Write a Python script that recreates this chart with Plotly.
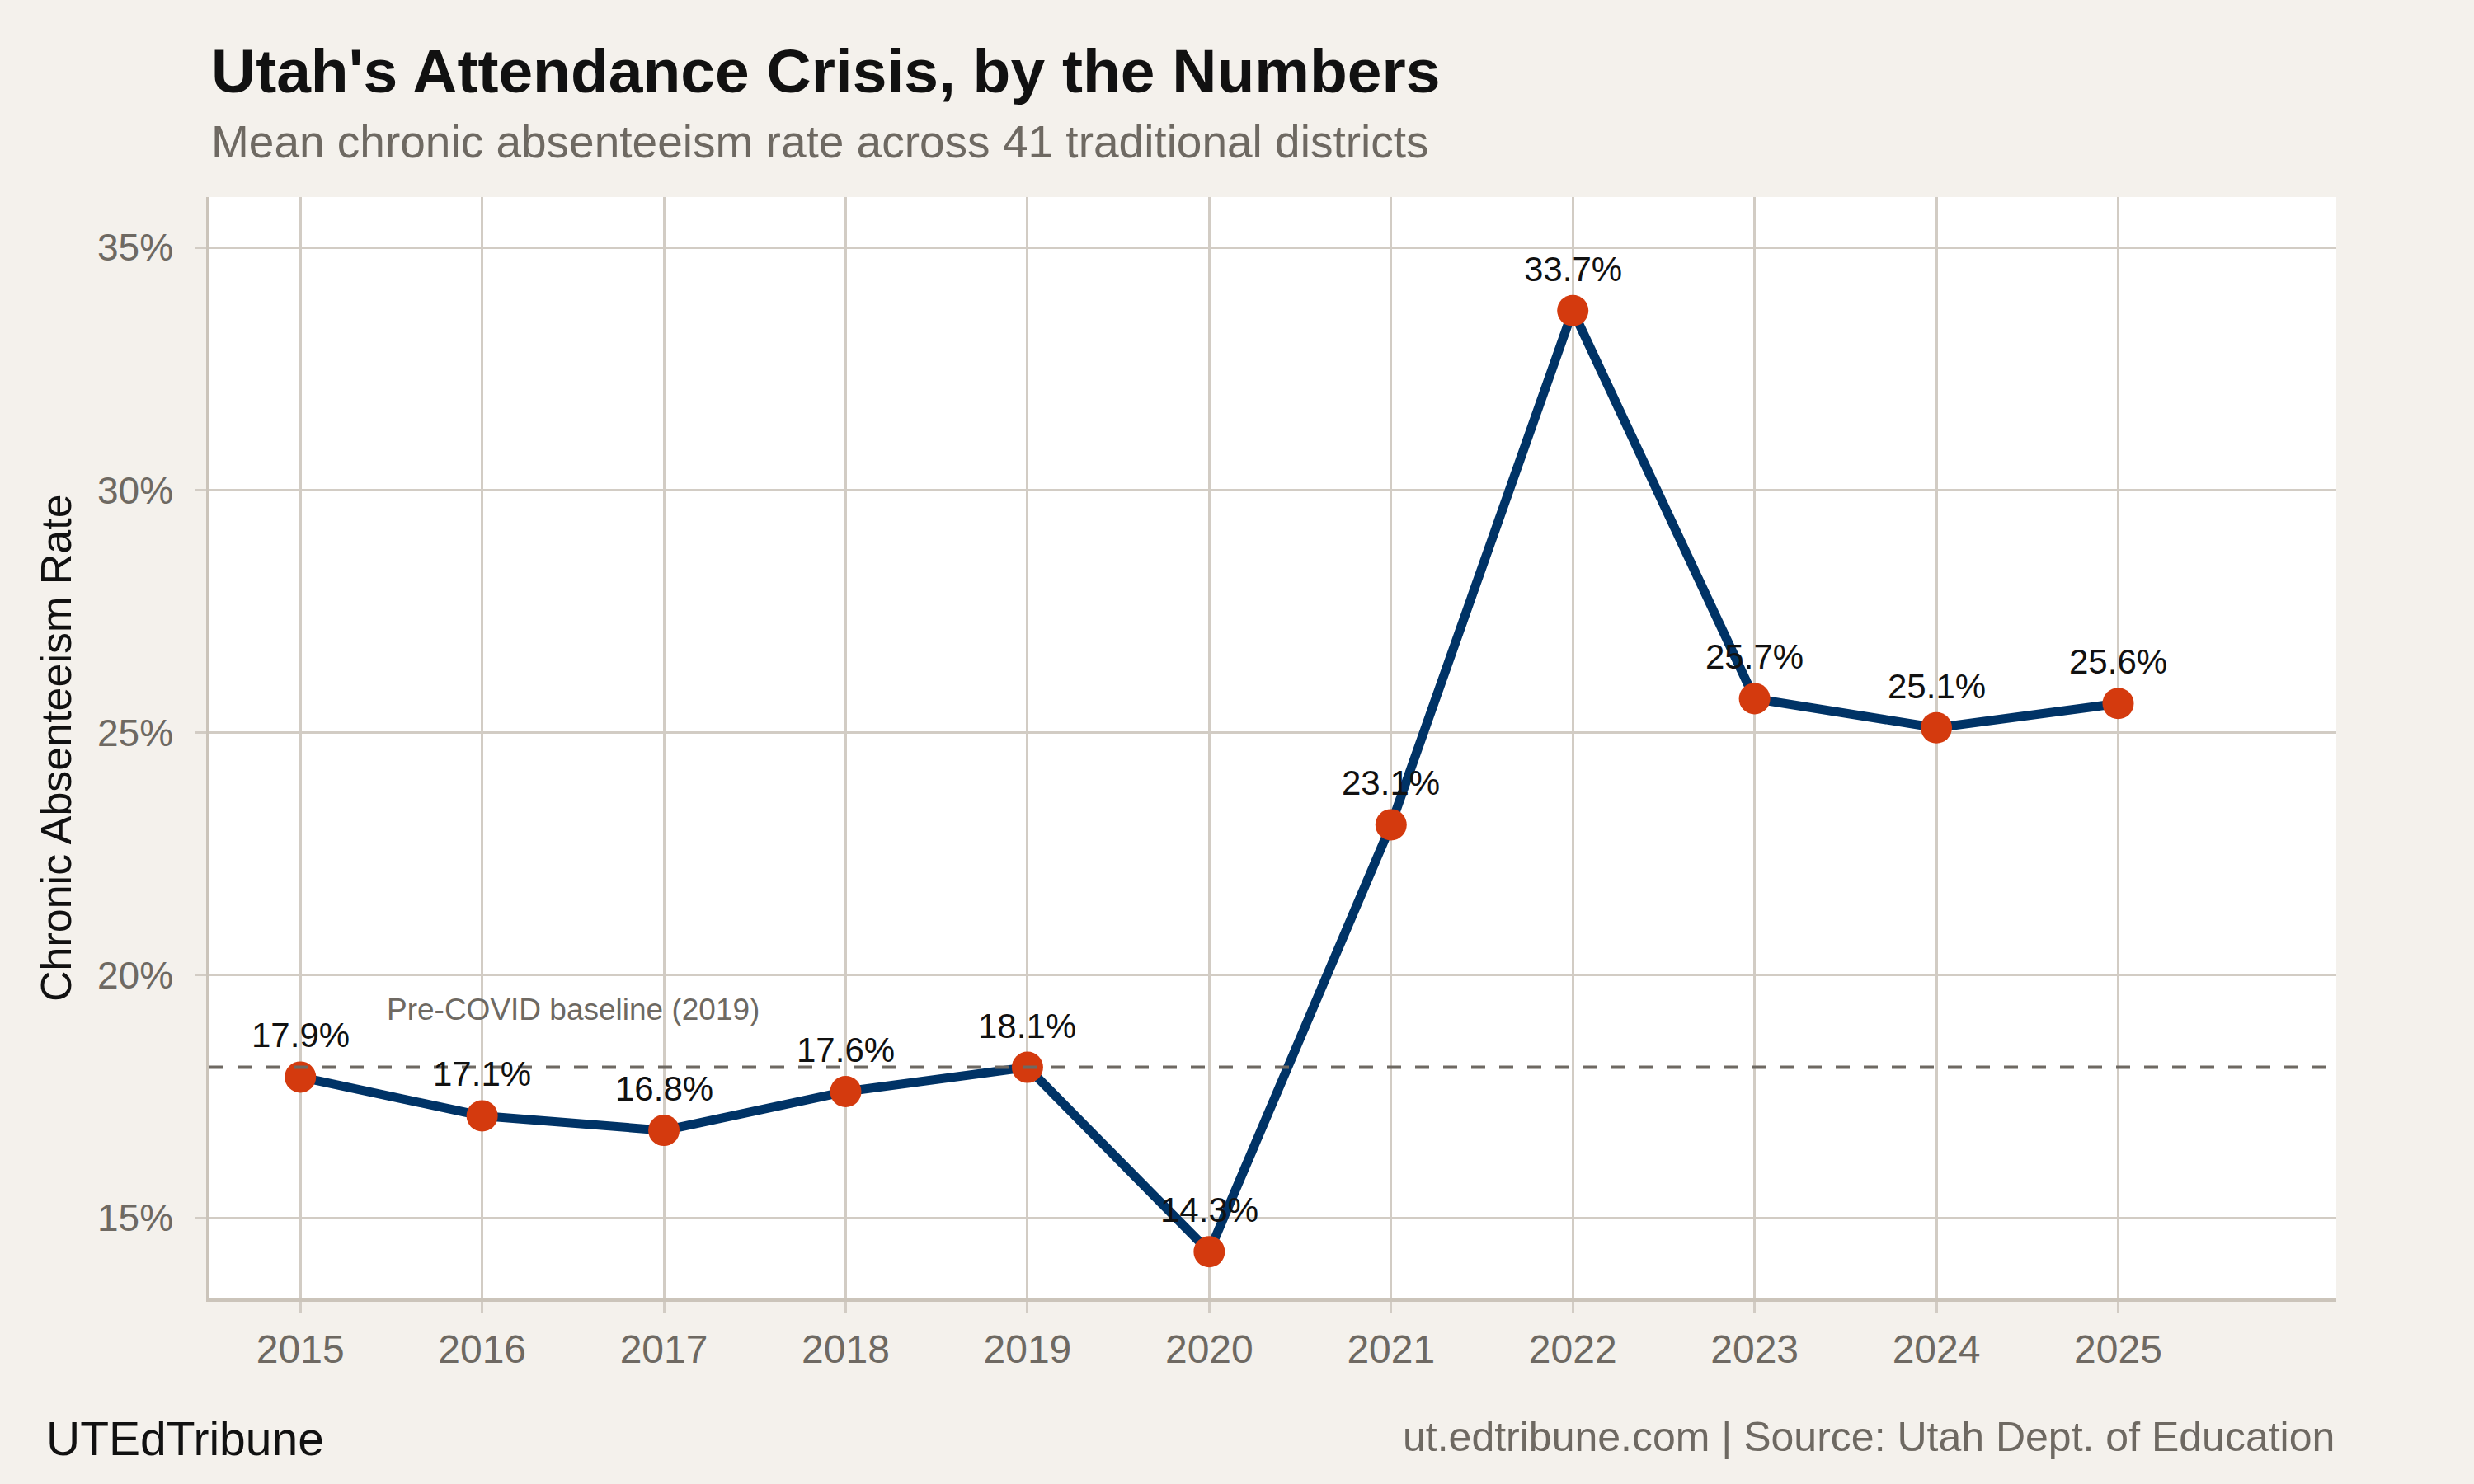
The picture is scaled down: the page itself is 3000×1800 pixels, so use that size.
import plotly.graph_objects as go

# chronic absenteeism, mean of 41 traditional districts (percent)
years = [2015, 2016, 2017, 2018, 2019, 2020, 2021, 2022, 2023, 2024, 2025]
rates = [17.9, 17.1, 16.8, 17.6, 18.1, 14.3, 23.1, 33.7, 25.7, 25.1, 25.6]
labels = [f"{r:.1f}%" for r in rates]
baseline = rates[years.index(2019)]
y_ticks = [15, 20, 25, 30, 35]
y_ticktext = [f"{v}%" for v in y_ticks]

FONT = 'Liberation Sans, Arial, Helvetica, sans-serif'
BG = '#f4f1ec'
GRID = '#d2ccc4'
AXIS = '#cbc4ba'
GREY = '#6e6962'
INK = '#111111'
NAVY = '#003366'
ORANGE = '#d43a0e'

fig = go.Figure()

fig.add_trace(go.Scatter(
    x=years,
    y=rates,
    mode='lines+markers',
    line={'color': NAVY, 'width': 11},
    marker={'color': ORANGE, 'size': 38, 'line': {'width': 0}},
    hoverinfo='skip',
    showlegend=False
))

# pre-covid baseline
fig.add_hline(
    y=baseline,
    line={'color': GREY, 'width': 4, 'dash': '17px,17px'},
    layer='above'
)
fig.add_annotation(
    x=2016.5, y=baseline + 1.2,
    text='Pre-COVID baseline (2019)',
    showarrow=False,
    xanchor='center', yanchor='middle',
    font={'size': 37, 'color': GREY, 'family': FONT}
)

# point labels
for yr, r, lab in zip(years, rates, labels):
    fig.add_annotation(
        x=yr, y=r, text=lab,
        showarrow=False,
        xanchor='center', yanchor='bottom',
        yshift=25,
        font={'size': 42, 'color': INK, 'family': FONT}
    )

# titles and footer
fig.add_annotation(
    x=0, y=1.0816, xref='paper', yref='paper',
    text="<b>Utah's Attendance Crisis, by the Numbers</b>",
    showarrow=False, xanchor='left', yanchor='bottom',
    font={'size': 75, 'color': INK, 'family': FONT}
)
fig.add_annotation(
    x=0, y=1.0254, xref='paper', yref='paper',
    text='Mean chronic absenteeism rate across 41 traditional districts',
    showarrow=False, xanchor='left', yanchor='bottom',
    font={'size': 55, 'color': GREY, 'family': FONT}
)
fig.add_annotation(
    x=-0.0721, y=0.5, xref='paper', yref='paper',
    text='Chronic Absenteeism Rate',
    textangle=-90,
    showarrow=False, xanchor='center', yanchor='middle',
    font={'size': 52, 'color': INK, 'family': FONT}
)
fig.add_annotation(
    x=-0.0775, y=-0.1527, xref='paper', yref='paper',
    text='UTEdTribune',
    showarrow=False, xanchor='left', yanchor='bottom',
    font={'size': 57, 'color': INK, 'family': FONT}
)
fig.add_annotation(
    x=1, y=-0.148, xref='paper', yref='paper',
    text='ut.edtribune.com | Source: Utah Dept. of Education',
    showarrow=False, xanchor='right', yanchor='bottom',
    font={'size': 50, 'color': GREY, 'family': FONT}
)

fig.update_xaxes(
    range=[2014.5, 2026.2],
    tickvals=years,
    ticktext=[str(y) for y in years],
    showgrid=True, gridcolor=GRID, gridwidth=2.5,
    zeroline=False,
    showline=True, linecolor=AXIS, linewidth=3.5,
    ticks='outside', ticklen=14, tickwidth=2.5, tickcolor=GRID,
    ticklabelstandoff=3,
    tickfont={'size': 48, 'color': GREY, 'family': FONT}
)
fig.update_yaxes(
    range=[13.335, 36.04],
    tickvals=y_ticks,
    ticktext=y_ticktext,
    showgrid=True, gridcolor=GRID, gridwidth=2.5,
    zeroline=False,
    showline=True, linecolor=AXIS, linewidth=3.5,
    ticks='outside', ticklen=14, tickwidth=2.5, tickcolor=GRID,
    ticklabelstandoff=17,
    tickfont={'size': 46, 'color': GREY, 'family': FONT}
)

fig.update_layout(
    width=3000,
    height=1800,
    margin={'l': 254, 'r': 167, 't': 239, 'b': 225},
    paper_bgcolor=BG,
    plot_bgcolor='white',
    font={'family': FONT, 'color': INK},
    showlegend=False
)

fig.write_html(
    "out.html",
    config={'displayModeBar': False},
    post_script="document.body.style.margin='0';"
)
